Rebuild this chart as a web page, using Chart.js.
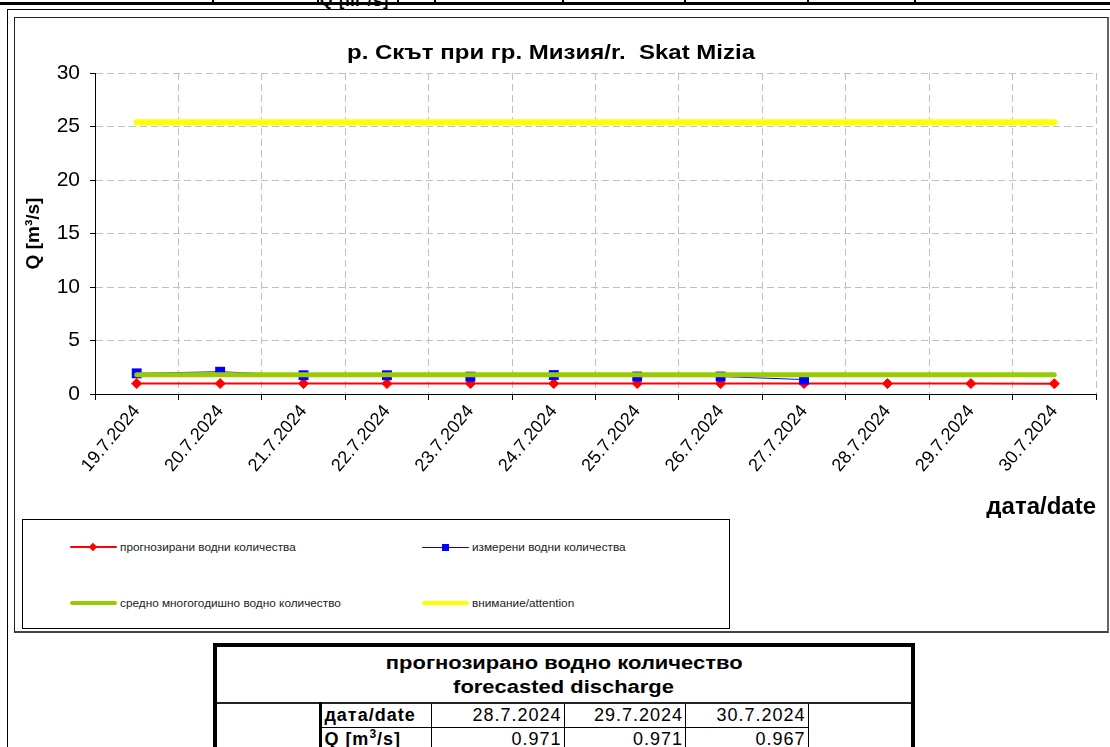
<!DOCTYPE html>
<html>
<head>
<meta charset="utf-8">
<script src="https://cdn.jsdelivr.net/npm/chart.js@4.4.1/dist/chart.umd.min.js"></script>
<style>
    html, body { margin: 0; padding: 0; background: #fff; }
    body { width: 1110px; height: 747px; position: relative; overflow: hidden;
           font-family: "Liberation Sans", Arial, sans-serif; color: #000; }
    .abs { position: absolute; }
    /* top strip (bottom of the table above the chart) */
    .top-line { left: 0; top: 2px; width: 1110px; height: 3px; background: #000; }
    .top-vl { top: 0; width: 2px; height: 4px; background: #000; }
    .top-q { left: 320px; top: -10px; font-size: 16px; font-weight: bold; letter-spacing: 1px; }
    .sheet { left: 7px; top: 9px; width: 1110px; height: 750px; border-left: 1px solid #000; border-top: 1px solid #000; }
    .chart-frame { left: 14px; top: 17px; width: 1095px; height: 616px; border: 1px solid #222; border-right: 2px solid #666; border-bottom: 2px solid #444; box-sizing: border-box; }
    #wrap { left: 14px; top: 18px; width: 1095px; height: 500px; }
    .title { left: 14px; top: 40px; width: 1073px; text-align: center; font-size: 20px; line-height: 24px; font-weight: bold; white-space: pre; }
    .title span { display: inline-block; transform: scaleX(1.2); }
    .legend { left: 22px; top: 519px; width: 708px; height: 110px; border: 1px solid #000; box-sizing: border-box; }
    .lg-item { position: absolute; font-size: 11.8px; color: #222; white-space: nowrap; }
    .lg-line { position: absolute; }
    .lg-mark { position: absolute; }
    table.fc { position: absolute; left: 213px; top: 643px; width: 702px; border-collapse: collapse;
               border: 4px solid #000; font-size: 18px; letter-spacing: 1px; }
    table.fc td { padding: 0 2px; height: 23px; line-height: 21px; }
    table.fc td.head { text-align: center; font-weight: bold; font-size: 18px; letter-spacing: 0; height: 54px; line-height: 24px; border-bottom: 2px solid #222; padding-top: 1px; }
    table.fc td.head span { display: inline-block; transform: scaleX(1.22); }
    table.fc td.lbl { font-weight: bold; border-left: 3px solid #000; border-right: 1px solid #000; border-bottom: 1px solid #000; }
    table.fc td.val { text-align: right; border-right: 1px solid #000; border-bottom: 1px solid #000; }
</style>
</head>
<body>

<div class="abs top-line"></div>
<div class="abs top-vl" style="left:212px"></div>
<div class="abs top-vl" style="left:317px"></div>
<div class="abs top-vl" style="left:397px"></div>
<div class="abs top-vl" style="left:434px"></div>
<div class="abs top-vl" style="left:562px"></div>
<div class="abs top-vl" style="left:684px"></div>
<div class="abs top-vl" style="left:807px"></div>
<div class="abs top-vl" style="left:914px"></div>
<div class="abs top-q">Q [m<sup style="font-size:11px">3</sup>/s]</div>

<div class="abs sheet"></div>
<div class="abs chart-frame"></div>
<div class="abs" id="wrap"><canvas id="chart" width="1095" height="500"></canvas></div>
<div class="abs title"><span id="title"></span></div>

<div class="abs legend" id="legend"></div>

<table class="fc">
    <tr><td class="head" colspan="6"><span>прогнозирано водно количество</span><br><span>forecasted discharge</span></td></tr>
    <tr>
        <td style="width:100px" rowspan="2"></td>
        <td class="lbl" style="width:105px">дата/date</td>
        <td class="val" id="d0" style="width:128px"></td>
        <td class="val" id="d1" style="width:117px"></td>
        <td class="val" id="d2" style="width:118px"></td>
        <td style="width:100px" rowspan="2"></td>
    </tr>
    <tr>
        <td class="lbl">Q [m<sup style="font-size:12px;line-height:0">3</sup>/s]</td>
        <td class="val" id="q0"></td>
        <td class="val" id="q1"></td>
        <td class="val" id="q2"></td>
    </tr>
</table>

<script>
(function () {
    'use strict';

    // ═══════════════════════════════════════════════════════════
    //  Data
    // ═══════════════════════════════════════════════════════════

    var chartTitle = 'р. Скът при гр. Мизия/r.  Skat Mizia';

    var dates = [
        '19.7.2024', '20.7.2024', '21.7.2024', '22.7.2024', '23.7.2024', '24.7.2024',
        '25.7.2024', '26.7.2024', '27.7.2024', '28.7.2024', '29.7.2024', '30.7.2024'
    ];

    // прогнозирани водни количества (forecast)
    var forecast = [0.98, 0.98, 0.97, 0.97, 0.97, 0.97, 0.97, 0.97, 0.97, 0.971, 0.971, 0.967];

    // измерени водни количества (measured, up to 27.7)
    var measured = [1.93, 2.08, 1.75, 1.75, 1.62, 1.77, 1.63, 1.63, 1.35];

    // средно многогодишно водно количество (long-term mean)
    var meanFlow = [1.8, 1.8, 1.8, 1.8, 1.8, 1.8, 1.8, 1.8, 1.8, 1.8, 1.8, 1.8];

    // внимание/attention level
    var attention = [25.4, 25.4, 25.4, 25.4, 25.4, 25.4, 25.4, 25.4, 25.4, 25.4, 25.4, 25.4];

    var yTicks = [0, 5, 10, 15, 20, 25, 30];

    // forecast table (last three days)
    var tableDates = ['28.7.2024', '29.7.2024', '30.7.2024'];
    var tableValues = ['0.971', '0.971', '0.967'];

    var seriesNames = [
        'прогнозирани водни количества',
        'измерени водни количества',
        'средно многогодишно водно количество',
        'внимание/attention'
    ];

    // ═══════════════════════════════════════════════════════════
    //  Chart
    // ═══════════════════════════════════════════════════════════

    Chart.defaults.font.family = '"Liberation Sans", Arial, sans-serif';
    Chart.defaults.color = '#000';

    var GRID = '#c0c0c0';

    document.getElementById('title').textContent = chartTitle;

    new Chart(document.getElementById('chart').getContext('2d'), {
        type: 'line',
        data: {
            labels: dates,
            datasets: [
                {
                    label: seriesNames[0], data: forecast, order: 4,
                    borderColor: '#ff0000', backgroundColor: '#ff0000', borderWidth: 2,
                    pointStyle: 'rectRot', pointRadius: 5, pointBorderWidth: 1,
                    pointBackgroundColor: '#ff0000', pointBorderColor: '#ff0000'
                },
                {
                    label: seriesNames[1], data: measured, order: 3,
                    borderColor: '#0000ff', backgroundColor: '#0000ff', borderWidth: 1,
                    pointStyle: 'rect', pointRadius: 7, pointBorderWidth: 0,
                    pointBackgroundColor: '#0000ff'
                },
                {
                    label: seriesNames[2], data: meanFlow, order: 2,
                    borderColor: '#99cc00', borderWidth: 5, borderCapStyle: 'round',
                    pointRadius: 0
                },
                {
                    label: seriesNames[3], data: attention, order: 1,
                    borderColor: '#ffff00', borderWidth: 6, borderCapStyle: 'round',
                    pointRadius: 0
                }
            ]
        },
        options: {
            responsive: false,
            animation: false,
            devicePixelRatio: 1,
            events: [],
            layout: { padding: { left: 0, right: 13, top: 55, bottom: 0 } },
            plugins: {
                legend: { display: false },
                tooltip: { enabled: false },
                title: { display: false }
            },
            scales: {
                x: {
                    offset: true,
                    grid: { offset: true, color: GRID, tickColor: '#000', tickLength: 6 },
                    border: { color: '#000', width: 1, dash: [7, 4] },
                    ticks: {
                        autoSkip: false, minRotation: 50, maxRotation: 50,
                        color: '#000', font: { size: 18 }, padding: 1
                    },
                    title: {
                        display: true, text: 'дата/date', align: 'end', color: '#000',
                        font: { size: 24, weight: 'bold' }, padding: { top: 0, bottom: -4 }
                    },
                    afterFit: function (s) { s.height = 124; }
                },
                y: {
                    min: yTicks[0],
                    max: yTicks[yTicks.length - 1],
                    afterBuildTicks: function (s) {
                        s.ticks = yTicks.map(function (v) { return { value: v }; });
                    },
                    grid: { color: GRID, tickColor: '#000', tickLength: 5 },
                    border: { color: '#000', width: 1, dash: [7, 4] },
                    ticks: { color: '#000', font: { size: 21 }, padding: 10 },
                    title: {
                        display: true, text: 'Q [m³/s]', color: '#000',
                        font: { size: 19, weight: 'bold' }, padding: { top: 8, bottom: 0 }
                    },
                    afterFit: function (s) { s.width = 81; }
                }
            }
        }
    });

    // ═══════════════════════════════════════════════════════════
    //  Legend (2 x 2 grid in a framed box)
    // ═══════════════════════════════════════════════════════════

    var legendEl = document.getElementById('legend');
    var legendItems = [
        { name: seriesNames[0], color: '#ff0000', width: 2, mark: 'diamond', x: 47, y: 27 },
        { name: seriesNames[1], color: '#0000ff', width: 1, mark: 'square', x: 399, y: 27 },
        { name: seriesNames[2], color: '#99cc00', width: 4, mark: null, x: 47, y: 83 },
        { name: seriesNames[3], color: '#ffff00', width: 4, mark: null, x: 399, y: 83 }
    ];

    legendItems.forEach(function (it) {
        var line = document.createElement('div');
        line.className = 'lg-line';
        line.style.left = it.x + 'px';
        line.style.top = (it.y - it.width / 2) + 'px';
        line.style.width = '47px';
        line.style.height = it.width + 'px';
        line.style.background = it.color;
        line.style.borderRadius = '2px';
        legendEl.appendChild(line);

        if (it.mark) {
            var m = document.createElement('div');
            m.className = 'lg-mark';
            m.style.background = it.color;
            if (it.mark === 'diamond') {
                m.style.width = '6px'; m.style.height = '6px';
                m.style.left = (it.x + 20) + 'px'; m.style.top = (it.y - 3) + 'px';
                m.style.transform = 'rotate(45deg)';
            } else {
                m.style.width = '7px'; m.style.height = '7px';
                m.style.left = (it.x + 20) + 'px'; m.style.top = (it.y - 3.5) + 'px';
            }
            legendEl.appendChild(m);
        }

        var t = document.createElement('div');
        t.className = 'lg-item';
        t.textContent = it.name;
        t.style.left = (it.x + 50) + 'px';
        t.style.top = (it.y - 7) + 'px';
        legendEl.appendChild(t);
    });

    // ═══════════════════════════════════════════════════════════
    //  Forecast table
    // ═══════════════════════════════════════════════════════════

    for (var i = 0; i < tableDates.length; i++) {
        document.getElementById('d' + i).textContent = tableDates[i];
        document.getElementById('q' + i).textContent = tableValues[i];
    }
})();
</script>
</body>
</html>
